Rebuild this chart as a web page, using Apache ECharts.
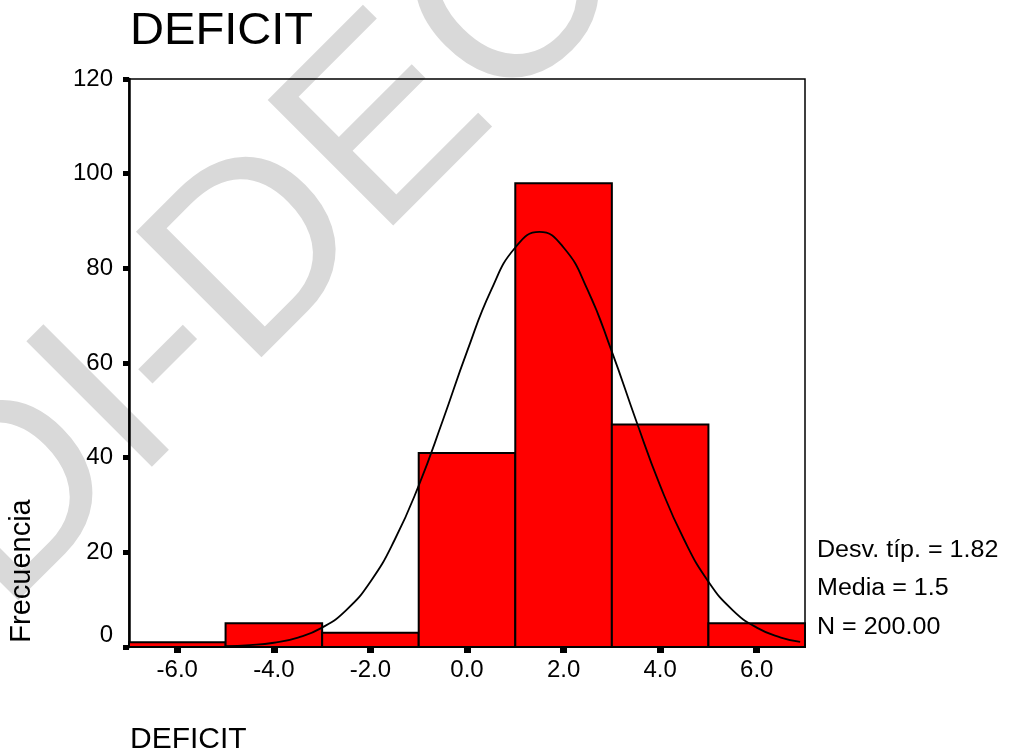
<!DOCTYPE html>
<html>
<head>
<meta charset="utf-8">
<title>DEFICIT</title>
<script src="https://cdn.jsdelivr.net/npm/echarts@6/dist/echarts.min.js"></script>
<style>
  html, body { margin: 0; padding: 0; background: #ffffff; }
  #chart { width: 1009px; height: 755px; }
</style>
</head>
<body>
<div id="chart"></div>
<script>
// Histogram bins (centre of each class, width 2) and their frequencies
const binCenters = [-6, -4, -2, 0, 2, 4, 6];
const counts = [1, 5, 3, 41, 98, 47, 5];
const binWidth = 2;

// Tick positions on the horizontal axis
const xTickValues = [-6, -4, -2, 0, 2, 4, 6];

// Fitted normal curve, sampled along the x axis
const curveX = [-5, -4.5, -4, -3.5, -3, -2.5, -2, -1.5, -1, -0.5, 0, 0.5, 1, 1.5, 2, 2.5, 3, 3.5, 4, 4.5, 5, 5.5, 6, 6.5, 6.9];
const curveY = [0.2, 0.4, 0.9, 2.0, 4.1, 7.8, 13.8, 22.6, 34.1, 47.9, 62.4, 75.4, 84.4, 87.7, 84.4, 75.4, 62.4, 47.9, 34.1, 22.6, 13.8, 7.8, 4.1, 2.0, 1.1];

// Summary statistics
const stdDevText = '1.82';
const meanText = '1.5';
const total = counts.reduce((a, b) => a + b, 0);
const statLines = ['Desv. típ. = ' + stdDevText, 'Media = ' + meanText, 'N = ' + total.toFixed(2)];

const FONT = '"Liberation Sans", Arial, Helvetica, sans-serif';

const chart = echarts.init(document.getElementById('chart'), null, { renderer: 'canvas' });

const barData = binCenters.map((c, i) => [c, counts[i]]);
const curveData = curveX.map((x, i) => [x, curveY[i]]);

const option = {
  backgroundColor: '#ffffff',
  animation: false,
  grid: {
    left: 129, top: 79, width: 676, height: 568,
    show: true, borderColor: '#000000', borderWidth: 1.5, backgroundColor: 'transparent'
  },
  xAxis: {
    type: 'value', min: -7, max: 7,
    splitLine: { show: false },
    axisLine: { show: true, onZero: false, lineStyle: { color: '#000000', width: 2 } },
    axisTick: { show: true, customValues: xTickValues, length: 6, lineStyle: { color: '#000000', width: 7 } },
    axisLabel: {
      customValues: xTickValues,
      formatter: v => Number(v).toFixed(1),
      color: '#000000', fontFamily: FONT, fontSize: 24, margin: 11
    }
  },
  yAxis: {
    type: 'value', min: 0, max: 120, interval: 20,
    splitLine: { show: false },
    axisLine: { show: true, onZero: false, lineStyle: { color: '#000000', width: 2.5 } },
    axisTick: { show: true, length: 6, lineStyle: { color: '#000000', width: 5 } },
    axisLabel: {
      color: '#000000', fontFamily: FONT, fontSize: 24, margin: 16,
      formatter: v => (v === 0 ? '{zero|0}' : String(v)),
      rich: { zero: { fontFamily: FONT, fontSize: 24, color: '#000000', padding: [0, 0, 24, 0] } }
    }
  },
  graphic: [
    // watermark lettering behind the plot
    {
      type: 'text', x: -47, y: 565, rotation: Math.PI / 4, z: -10, silent: true,
      style: { text: 'DI-DEC', fill: '#d9d9d9', font: '258px ' + FONT, align: 'left', verticalAlign: 'middle' }
    },
    {
      type: 'text', x: 130, y: 32, scaleX: 1.07,
      style: { text: 'DEFICIT', fill: '#000000', font: '44px ' + FONT, align: 'left', verticalAlign: 'middle' }
    },
    {
      type: 'text', x: 22, y: 571, rotation: Math.PI / 2,
      style: { text: 'Frecuencia', fill: '#000000', font: '29px ' + FONT, align: 'center', verticalAlign: 'middle' }
    },
    {
      type: 'text', x: 130, y: 740,
      style: { text: 'DEFICIT', fill: '#000000', font: '30px ' + FONT, align: 'left', verticalAlign: 'middle' }
    },
    ...statLines.map((t, i) => ({
      type: 'text', x: 817, y: [551, 589, 628][i], scaleX: 1.09,
      style: { text: t, fill: '#000000', font: '23px ' + FONT, align: 'left', verticalAlign: 'middle' }
    }))
  ],
  series: [
    {
      type: 'custom',
      data: barData,
      encode: { x: 0, y: 1 },
      z: 2,
      renderItem: (params, api) => {
        const c = api.value(0);
        const n = api.value(1);
        const p0 = api.coord([c - binWidth / 2, n]);
        const p1 = api.coord([c + binWidth / 2, 0]);
        return {
          type: 'rect',
          shape: { x: p0[0], y: p0[1], width: p1[0] - p0[0], height: p1[1] - p0[1] },
          style: { fill: '#ff0000', stroke: '#000000', lineWidth: 2 }
        };
      }
    },
    {
      type: 'line',
      data: curveData,
      smooth: true,
      showSymbol: false,
      z: 3,
      lineStyle: { color: '#000000', width: 1.8 }
    }
  ]
};

chart.setOption(option);
</script>
</body>
</html>
